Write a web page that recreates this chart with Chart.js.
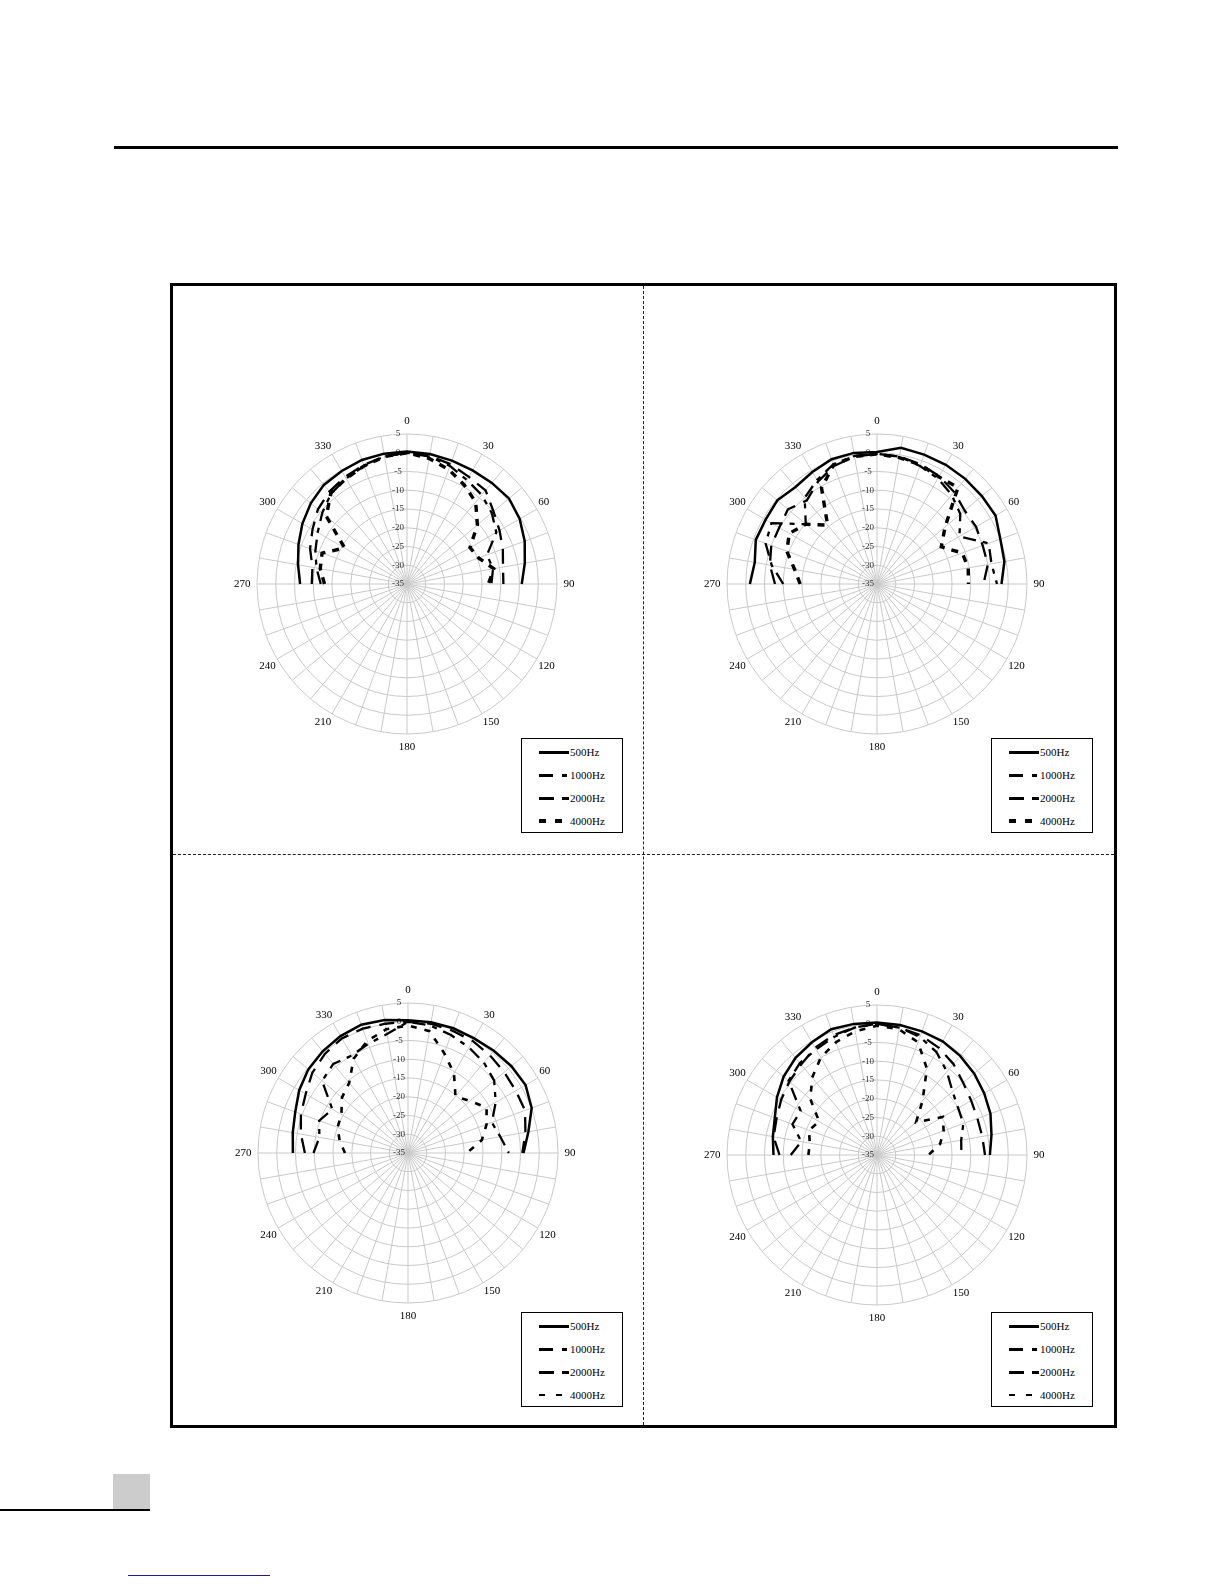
<!DOCTYPE html>
<html>
<head>
<meta charset="utf-8">
<script src="https://cdn.jsdelivr.net/npm/chart.js@4.4.1/dist/chart.umd.min.js"></script>
<style>
  html, body { margin: 0; padding: 0; background: #fff; }
  #page { position: relative; width: 1224px; height: 1584px; overflow: hidden; background: #fff; }
  .abs { position: absolute; }
  #topRule { left: 114px; top: 146px; width: 1004px; height: 2.5px; background: #000; }
  #frame { left: 170px; top: 283px; width: 941px; height: 1139px; border: 3px solid #000; }
  #vDash { left: 643px; top: 286px; width: 0; height: 1139px; border-left: 1px dashed #222; }
  #hDash { left: 173px; top: 854px; width: 941px; height: 0; border-top: 1px dashed #222; }
  #pageBox { left: 113px; top: 1474px; width: 37px; height: 36px; background: #cccccc; }
  #pageRule { left: 0; top: 1509px; width: 150px; height: 2px; background: #000; }
  #linkRule { left: 128px; top: 1575px; width: 142px; height: 1px; background: #1c1c8a; }
  canvas.polar { position: absolute; }
  .legend { position: absolute; width: 100px; height: 93px; border: 1px solid #000; background: #fff;
            font-family: "Liberation Serif", "DejaVu Serif", serif; font-size: 11px; color: #000; }
  .legend .row { position: absolute; left: 0; width: 100px; height: 14px; }
  .legend .sample { position: absolute; left: 17px; width: 30px; top: 6px; }
  .legend .txt { position: absolute; left: 48px; top: 0; line-height: 14px; }
  .s500 { height: 2.5px; background: #000; }
  .s1000 { height: 2.5px; background: linear-gradient(90deg, #000 0 14px, transparent 14px 23px, #000 23px 28px, transparent 28px 30px); }
  .s2000 { height: 2.5px; background: linear-gradient(90deg, #000 0 15px, transparent 15px 23px, #000 23px 30px); }
  .s4000 { height: 3.5px; top: 5px !important; background: linear-gradient(90deg, #000 0 7px, transparent 7px 16px, #000 16px 23px, transparent 23px 30px); }
  .thin .s4000 { height: 2px; top: 6px !important; background: linear-gradient(90deg, #000 0 6px, transparent 6px 17px, #000 17px 23px, transparent 23px 30px); }
</style>
</head>
<body>
<div id="page">
  <div class="abs" id="topRule"></div>
  <div class="abs" id="frame"></div>
  <div class="abs" id="vDash"></div>
  <div class="abs" id="hDash"></div>
  <div class="abs" id="pageBox"></div>
  <div class="abs" id="pageRule"></div>
  <div class="abs" id="linkRule"></div>

  <canvas class="polar" id="polarTL" width="347" height="347" style="left:231px;top:411px"></canvas>
  <canvas class="polar" id="polarTR" width="347" height="347" style="left:701px;top:411px"></canvas>
  <canvas class="polar" id="polarBL" width="347" height="347" style="left:232px;top:980px"></canvas>
  <canvas class="polar" id="polarBR" width="347" height="347" style="left:701px;top:982px"></canvas>

  <div class="legend" id="legendTL" style="left:521px;top:738px"></div>
  <div class="legend" id="legendTR" style="left:991px;top:738px"></div>
  <div class="legend thin" id="legendBL" style="left:521px;top:1312px"></div>
  <div class="legend thin" id="legendBR" style="left:991px;top:1312px"></div>
</div>

<script>
// angle categories around the dial (degrees, clockwise from top)
const angleLabels = ["0", "10", "20", "30", "40", "50", "60", "70", "80", "90",
  "100", "110", "120", "130", "140", "150", "160", "170", "180",
  "190", "200", "210", "220", "230", "240", "250", "260", "270",
  "280", "290", "300", "310", "320", "330", "340", "350"];

// measured half: 270 -> 0 -> 90
const measuredAngles = [270, 280, 290, 300, 310, 320, 330, 340, 350, 0,
  10, 20, 30, 40, 50, 60, 70, 80, 90];

const freqLabels = ["500Hz", "1000Hz", "2000Hz", "4000Hz"];
const radialTicks = [-35, -30, -25, -20, -15, -10, -5, 0, 5];

// top left
const tl500 = [-6.5, -5.5, -4.2, -2.8, -1.5, -0.5, -0.2, 0.2, 0.3, 0.3, 0.2, 0, 0, 0.2, 0.5, -0.3, -1.6, -3.1, -4.4];
const tl1000 = [-12, -10.5, -9, -7.5, -5.5, -3.5, -2.5, -1.5, -0.5, 0, -0.5, -1.5, -3, -4, -5.5, -7.5, -12.3, -11.7, -12.5];
const tl2000 = [-9.6, -9.4, -7.5, -5.9, -4, -2.8, -2, -1.2, -0.5, 0, -0.3, -1, -2, -2.4, -4.9, -6.5, -7.8, -9, -9.3];
const tl4000 = [-13, -11.5, -10.9, -15.8, -6.9, -3.4, -2.5, -1.5, -0.5, 0, -1, -2.5, -4.5, -6.5, -10.5, -15.6, -14.7, -11.5, -13.3];

// top right
const tr500 = [-1.1, -1.9, -0.6, -0.7, -0.3, -1.2, -0.5, 0.4, 0.5, 0.2, 1.9, 1.7, 1.7, 1.6, 1.5, 1.5, 0, -0.5, -1.8];
const tr1000 = [-10, -6.5, -3.4, -2.5, -10.2, -5, -3, -1, -0.3, -0.3, -0.5, -1.5, -2.5, -4, -6, -9.6, -3.3, -4, -3];
const tr2000 = [-7.8, -6, -5, -4.9, -4, -5.9, -3.5, -1.5, -0.5, -0.3, -0.5, -1, -1.8, -3, -4.5, -4.5, -5, -5, -6.6];
const tr4000 = [-14.5, -12.7, -9.4, -8, -10.2, -14.5, -5.4, -1.2, -0.5, -0.3, -0.8, -1.2, -2, -1.4, -11.3, -15.2, -10.8, -10.3, -10.6];

// bottom left
const bl500 = [-4.3, -3.8, -3, -1.5, -0.3, 0.4, 1, 1.4, 1, 0.4, 0.4, 0.4, 0.3, 0.6, 1, 1.2, 0.1, -2.4, -4.2];
const bl1000 = [-9.8, -11, -9.8, -11.7, -5.1, -4, -5, -4, -2.8, 0, -0.5, -1.5, -2.5, -3.5, -5, -8, -11.2, -10, -8.1];
const bl2000 = [-7.5, -6, -4.6, -3.5, -1.7, -0.5, 0.3, 0.3, 0, 0, 0, -0.3, -0.5, -1, -1.5, -1.8, -1.8, -3.2, -4.5];
const bl4000 = [-18.2, -16.5, -15, -14.5, -12, -10.6, -6, -3.2, -1.5, -1, -2, -6.7, -10.5, -15.3, -13.4, -10.8, -12.7, -15, -19.3];

// bottom right
const br500 = [-7.4, -6.8, -6, -4.2, -2.5, -1.2, -0.3, 0.7, 0.5, 0.3, 0.2, 0.1, 0, -0.5, -1.2, -2, -2.8, -4, -4.9];
const br1000 = [-12, -14.5, -11, -11.5, -4.2, -3, -2.5, -1.5, -0.5, 0, -0.5, -1.5, -3.3, -6, -8.7, -10, -10.5, -12.2, -12.5];
const br2000 = [-9, -7, -6.5, -5.5, -4.5, -3.5, -2, -1, -0.5, 0, -0.5, -1, -2, -3.3, -5, -6, -6.5, -6.5, -6.2];
const br4000 = [-16.7, -16.8, -15.7, -17.2, -11.8, -8.1, -5, -3, -1.5, -0.5, -1, -3, -8.4, -16.1, -21.4, -14.7, -16.1, -17.9, -21.3];

const SERIF = "'Liberation Serif', 'DejaVu Serif', serif";

document.addEventListener("DOMContentLoaded", function () {
  createPolarChart("polarTL", [tl500, tl1000, tl2000, tl4000], false);
  createPolarChart("polarTR", [tr500, tr1000, tr2000, tr4000], false);
  createPolarChart("polarBL", [bl500, bl1000, bl2000, bl4000], true);
  createPolarChart("polarBR", [br500, br1000, br2000, br4000], true);

  ["legendTL", "legendTR", "legendBL", "legendBR"].forEach(buildLegend);
});

// spread a 270..90 series over the full 36 angle slots, leaving the rear empty
function toDial(values) {
  const out = angleLabels.map(() => null);
  measuredAngles.forEach((a, i) => {
    out[angleLabels.indexOf(String(a))] = values[i];
  });
  return out;
}

function createPolarChart(canvasId, series, thin4000) {
  const canvasEl = document.getElementById(canvasId);
  if (!canvasEl) return;

  const styles = [
    { borderDash: [], borderWidth: 2.5 },
    { borderDash: [13, 7, 5, 7], borderWidth: 2.3 },
    { borderDash: [15, 9], borderWidth: 2.3 },
    thin4000
      ? { borderDash: [6, 8], borderWidth: 2.6 }
      : { borderDash: [7, 7], borderWidth: 3.4 },
  ];

  new Chart(canvasEl.getContext("2d"), {
    type: "radar",
    data: {
      labels: angleLabels,
      datasets: series.map((values, i) => ({
        label: freqLabels[i],
        data: toDial(values),
        borderColor: "#000",
        backgroundColor: "transparent",
        borderWidth: styles[i].borderWidth,
        borderDash: styles[i].borderDash,
        borderCapStyle: "butt",
        fill: false,
        spanGaps: false,
        tension: 0,
        pointRadius: 0,
        pointHoverRadius: 0,
      })),
    },
    options: {
      responsive: false,
      animation: false,
      events: [],
      plugins: { legend: { display: false }, tooltip: { enabled: false } },
      scales: {
        r: {
          min: radialTicks[0],
          max: radialTicks[radialTicks.length - 1],
          startAngle: 0,
          ticks: {
            stepSize: 5,
            color: "#333",
            font: { family: SERIF, size: 9 },
            showLabelBackdrop: false,
            callback: (val) => val + "\u2003\u2003",
          },
          grid: { circular: true, color: "#c9c9c9", lineWidth: 1 },
          angleLines: { color: "#c9c9c9", lineWidth: 1 },
          pointLabels: {
            color: "#000",
            // labels on the axes sit a bit further out than the diagonal ones
            padding: (ctx) => (ctx.index % 9 === 0 ? 0 : -5),
            font: { family: SERIF, size: 11 },
            callback: (lbl) => (Number(lbl) % 30 === 0 ? lbl : ""),
          },
        },
      },
    },
  });
}

function buildLegend(boxId) {
  const box = document.getElementById(boxId);
  if (!box) return;
  const rowTops = [6, 29, 52, 75];
  freqLabels.forEach((name, i) => {
    const row = document.createElement("div");
    row.className = "row";
    row.style.top = rowTops[i] + "px";
    row.innerHTML =
      '<span class="sample s' + name.replace("Hz", "") + '"></span>' +
      '<span class="txt">' + name + "</span>";
    box.appendChild(row);
  });
}
</script>
</body>
</html>
